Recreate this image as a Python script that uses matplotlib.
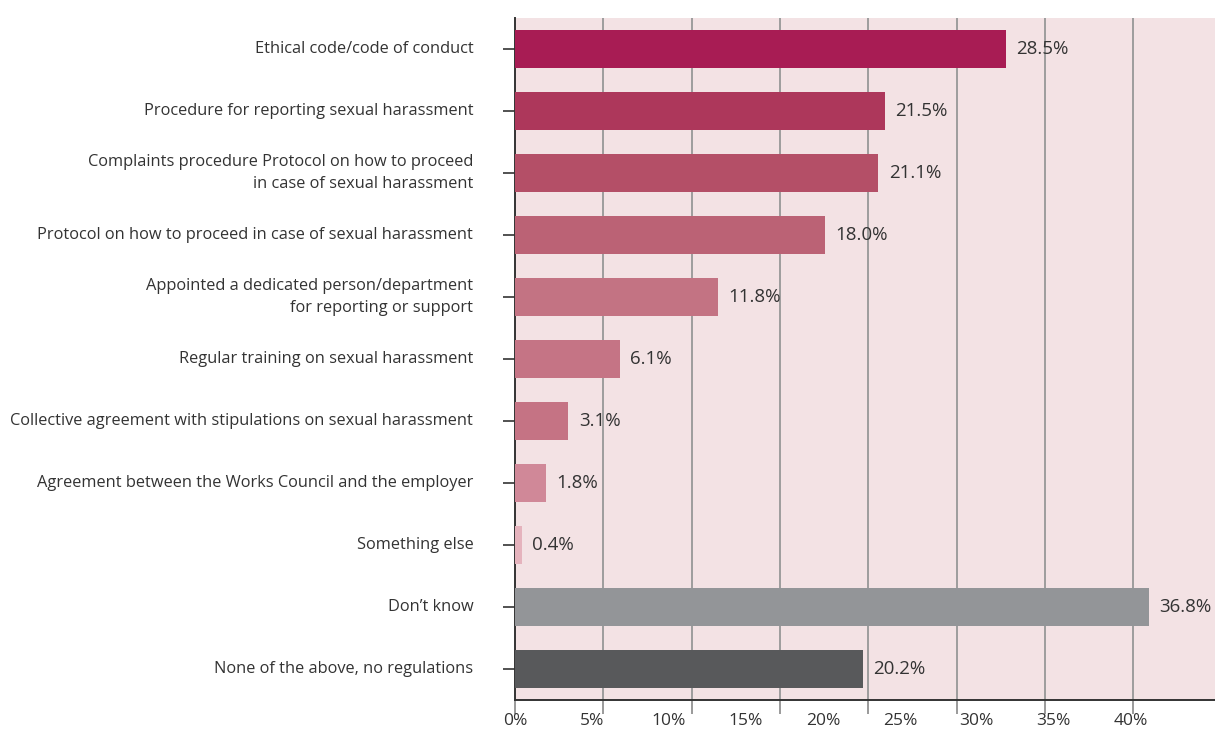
import matplotlib
matplotlib.use("Agg")
import matplotlib.pyplot as plt
import numpy as np

plt.rcParams['font.family'] = ['Open Sans', 'DejaVu Sans']

categories = [
    "Ethical code/code of conduct",
    "Procedure for reporting sexual harassment",
    "Complaints procedure Protocol on how to proceed\nin case of sexual harassment",
    "Protocol on how to proceed in case of sexual harassment",
    "Appointed a dedicated person/department\nfor reporting or support",
    "Regular training on sexual harassment",
    "Collective agreement with stipulations on sexual harassment",
    "Agreement between the Works Council and the employer",
    "Something else",
    "Don\u2019t know",
    "None of the above, no regulations",
]
values = [28.5, 21.5, 21.1, 18.0, 11.8, 6.1, 3.1, 1.8, 0.4, 36.8, 20.2]
colors = ["#A81C54", "#AD375B", "#B44F67", "#BB6275", "#C37383", "#C57485",
          "#C57384", "#D08898", "#E5B3BD", "#939598", "#58595B"]
tick_labels = ["0%", "5%", "10%", "15%", "20%", "25%", "30%", "35%", "40%"]

# axis spacing used for gridlines and printed tick labels
grid_step = 5.13
label_step = 4.47

fig = plt.figure(figsize=(12.15, 7.29), dpi=100)
ax = fig.add_axes([515 / 1215, 1 - 700 / 729, 700 / 1215, 682 / 729])
ax.set_facecolor("#F3E2E4")

y = np.arange(len(categories))
ax.barh(y, values, height=0.61, color=colors, zorder=3)
ax.set_ylim(len(categories) - 0.5, -0.5)
ax.set_xlim(0, 700 / 17.22)

text_color = "#333333"
for yi, v in zip(y, values):
    ax.text(v + 0.6, yi, f"{v:.1f}%", va="center", ha="left",
            fontsize=13.5, color=text_color, zorder=4)

ax.set_yticks(y)
ax.set_yticklabels(categories, fontsize=11.8, color=text_color,
                   ha="right", va="center", linespacing=1.55)
ax.tick_params(axis="y", direction="out", length=9, width=1.2,
               color=text_color, pad=21)

grid_pos = np.arange(0, 8) * grid_step
ax.set_xticks(grid_pos)
ax.set_xticklabels([])
ax.tick_params(axis="x", direction="out", length=10, width=1.4,
               color="#9A9A9A")
for g in grid_pos[1:]:
    ax.axvline(g, color="#9D9D9D", lw=1.4, zorder=1)

for i, lab in enumerate(tick_labels):
    ax.text(i * label_step, -0.019, lab, transform=ax.get_xaxis_transform(),
            ha="center", va="top", fontsize=12.5, color=text_color)

for s in ["top", "right"]:
    ax.spines[s].set_visible(False)
ax.spines["left"].set_color(text_color)
ax.spines["left"].set_linewidth(1.4)
ax.spines["bottom"].set_color(text_color)
ax.spines["bottom"].set_linewidth(1.4)

fig.savefig("out.png", dpi=100, facecolor="white")
